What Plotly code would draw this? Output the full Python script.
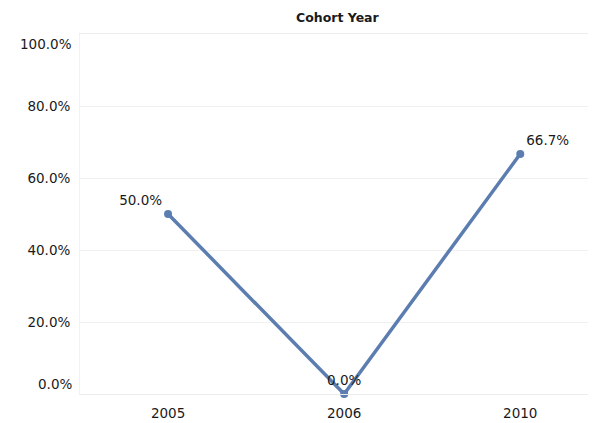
import plotly.graph_objects as go

years = ["2005", "2006", "2010"]
values = [0.50, 0.0, 0.667]
labels = ["50.0%", "0.0%", "66.7%"]
label_pos = ["top left", "top center", "top right"]
y_ticks = [0, 0.2, 0.4, 0.6, 0.8, 1.0]
y_tick_text = ["0.0%", "20.0%", "40.0%", "60.0%", "80.0%", "100.0%"]

font_family = "DejaVu Sans, Verdana, sans-serif"
color = "#5b7db0"
txt = "#1a1a1a"
fs = 13.5

fig = go.Figure()
fig.add_trace(go.Scatter(
    x=years, y=values, mode="lines+markers+text",
    line=dict(color=color, width=3.5),
    marker=dict(color=color, size=8),
    text=labels, textposition=label_pos,
    textfont=dict(family=font_family, size=fs, color=txt),
    cliponaxis=False, hoverinfo="skip", showlegend=False,
))

# inner tick labels normal; extremes shifted inward like the original
inner_text = [t if v not in (0, 1.0) else "" for v, t in zip(y_ticks, y_tick_text)]
annotations = [
    dict(text="<b>Cohort Year</b>", xref="paper", yref="paper", x=0.5, y=1,
         yanchor="bottom", yshift=7, showarrow=False,
         font=dict(family=font_family, size=12.5, color=txt)),
    dict(text=y_tick_text[-1], xref="paper", yref="y", x=0, y=y_ticks[-1],
         xanchor="right", yanchor="top", xshift=-6, showarrow=False,
         font=dict(family=font_family, size=fs, color=txt)),
    dict(text=y_tick_text[0], xref="paper", yref="y", x=0, y=y_ticks[0],
         xanchor="right", yanchor="bottom", xshift=-6, showarrow=False,
         font=dict(family=font_family, size=fs, color=txt)),
]

fig.update_layout(
    width=588, height=415,
    margin=dict(l=72, r=0, t=26, b=29),
    paper_bgcolor="white", plot_bgcolor="white",
    font=dict(family=font_family, size=fs, color=txt),
    annotations=annotations,
    xaxis=dict(type="category", range=[-0.5, 2.43], showgrid=False,
               showline=True, mirror=True, linecolor="#ececec", linewidth=1,
               ticks="", ticklabelstandoff=7,
               tickfont=dict(family=font_family, size=fs, color=txt)),
    yaxis=dict(range=[0, 1], tickvals=y_ticks, ticktext=inner_text,
               showgrid=True, gridcolor="#f0f0f0", zeroline=False,
               showline=True, linecolor="#f2f2f2", linewidth=1,
               ticks="", ticklabelstandoff=6,
               tickfont=dict(family=font_family, size=fs, color=txt)),
)

fig.write_html("out.html")
